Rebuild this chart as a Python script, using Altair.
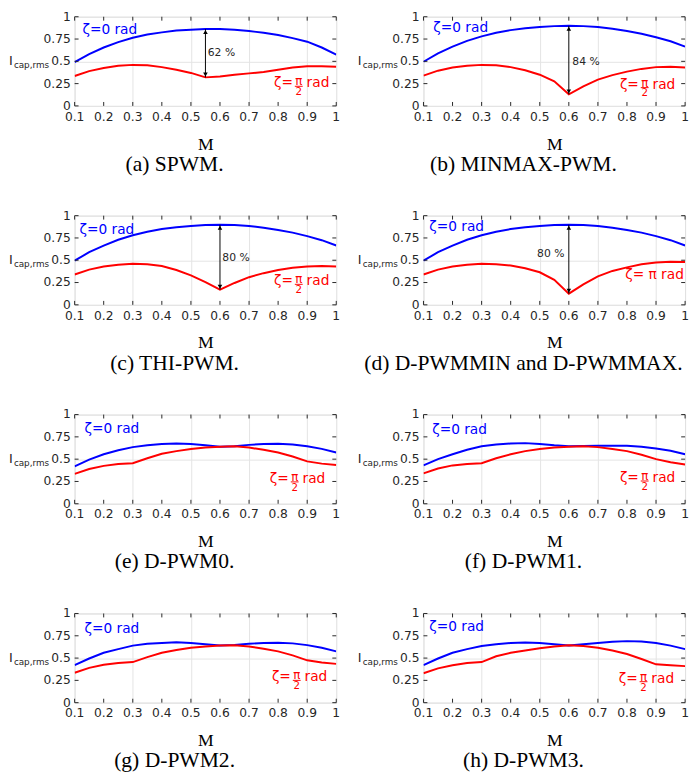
import altair as alt
import pandas as pd

# ---------------- data ----------------
M = [0.1, 0.15, 0.2, 0.25, 0.3, 0.35, 0.4, 0.45, 0.5, 0.55,
     0.6, 0.65, 0.7, 0.75, 0.8, 0.85, 0.9, 0.95, 1.0]
X_TICKS = [0.1, 0.2, 0.3, 0.4, 0.5, 0.6, 0.7, 0.8, 0.9, 1.0]
X_LABELS = ["0.1", "0.2", "0.3", "0.4", "0.5", "0.6", "0.7", "0.8", "0.9", "1"]
Y_TICKS = [0, 0.25, 0.5, 0.75, 1]
Y_LABELS = ["0", "0.25", "0.5", "0.75", "1"]

spwm_blue = [0.49, 0.58, 0.655, 0.715, 0.765, 0.80, 0.825, 0.845, 0.855, 0.862,
             0.862, 0.855, 0.84, 0.82, 0.795, 0.76, 0.72, 0.655, 0.575]
spwm_red = [0.335, 0.39, 0.425, 0.45, 0.46, 0.455, 0.435, 0.405, 0.37, 0.32,
            0.33, 0.35, 0.365, 0.38, 0.405, 0.43, 0.445, 0.445, 0.44]

minmax_blue = [0.495, 0.59, 0.665, 0.73, 0.78, 0.82, 0.85, 0.87, 0.885, 0.895,
               0.898, 0.895, 0.885, 0.865, 0.84, 0.81, 0.77, 0.725, 0.665]
minmax_red = [0.34, 0.395, 0.43, 0.45, 0.46, 0.455, 0.435, 0.40, 0.35, 0.275,
              0.13, 0.22, 0.295, 0.345, 0.385, 0.415, 0.435, 0.44, 0.43]

thi_blue = [0.495, 0.59, 0.665, 0.73, 0.78, 0.82, 0.85, 0.87, 0.885, 0.895,
            0.898, 0.895, 0.885, 0.865, 0.84, 0.81, 0.77, 0.725, 0.665]
thi_red = [0.34, 0.395, 0.43, 0.45, 0.46, 0.455, 0.435, 0.39, 0.33, 0.255,
           0.17, 0.245, 0.31, 0.355, 0.39, 0.415, 0.43, 0.435, 0.43]

dmm_blue = [0.495, 0.59, 0.665, 0.73, 0.78, 0.82, 0.85, 0.87, 0.885, 0.895,
            0.898, 0.895, 0.885, 0.865, 0.84, 0.81, 0.77, 0.725, 0.665]
dmm_red = [0.34, 0.395, 0.43, 0.45, 0.46, 0.455, 0.44, 0.41, 0.365, 0.28,
           0.125, 0.23, 0.32, 0.38, 0.42, 0.455, 0.475, 0.483, 0.48]

d0_blue = [0.42, 0.495, 0.555, 0.60, 0.635, 0.655, 0.67, 0.675, 0.67, 0.655,
           0.64, 0.645, 0.66, 0.67, 0.672, 0.665, 0.645, 0.615, 0.575]
d0_red = [0.335, 0.39, 0.425, 0.445, 0.455, 0.51, 0.56, 0.59, 0.615, 0.63,
          0.64, 0.645, 0.63, 0.605, 0.575, 0.53, 0.475, 0.45, 0.435]

d1_blue = [0.43, 0.50, 0.555, 0.605, 0.645, 0.665, 0.675, 0.68, 0.67, 0.655,
           0.645, 0.648, 0.65, 0.652, 0.65, 0.64, 0.62, 0.595, 0.555]
d1_red = [0.34, 0.395, 0.43, 0.445, 0.455, 0.51, 0.555, 0.59, 0.615, 0.63,
          0.64, 0.645, 0.635, 0.615, 0.59, 0.55, 0.50, 0.465, 0.44]

d2_blue = [0.42, 0.495, 0.56, 0.60, 0.64, 0.66, 0.67, 0.678, 0.67, 0.655,
           0.64, 0.648, 0.66, 0.67, 0.672, 0.665, 0.645, 0.615, 0.575]
d2_red = [0.335, 0.39, 0.425, 0.445, 0.455, 0.51, 0.56, 0.59, 0.615, 0.63,
          0.64, 0.645, 0.63, 0.605, 0.575, 0.53, 0.475, 0.45, 0.435]

d3_blue = [0.42, 0.495, 0.56, 0.60, 0.635, 0.655, 0.67, 0.675, 0.67, 0.655,
           0.64, 0.655, 0.67, 0.683, 0.69, 0.685, 0.67, 0.64, 0.60]
d3_red = [0.33, 0.385, 0.42, 0.445, 0.455, 0.52, 0.56, 0.585, 0.61, 0.63,
          0.645, 0.635, 0.615, 0.585, 0.545, 0.49, 0.43, 0.42, 0.41]

CAPTIONS = ["(a) SPWM.", "(b) MINMAX-PWM.", "(c) THI-PWM.",
            "(d) D-PWMMIN and D-PWMMAX.", "(e) D-PWM0.", "(f) D-PWM1.",
            "(g) D-PWM2.", "(h) D-PWM3."]

# label anchors (data coordinates)
BLUE_LAB = [(0.127, 0.81), (0.134, 0.83), (0.117, 0.79), (0.12, 0.83),
            (0.134, 0.79), (0.13, 0.78), (0.134, 0.78), (0.12, 0.80)]
RED_LAB = [(0.871, 0.22), (0.861, 0.205), (0.871, 0.23), (0.794, 0.285),
           (0.857, 0.245), (0.861, 0.255), (0.864, 0.25), (0.857, 0.235)]
# arrows: M, low, high, label text, label M, label I, align
ARROWS = [(0.55, 0.32, 0.862, "62 %", 0.558, 0.59, "left"),
          (0.6, 0.13, 0.898, "84 %", 0.612, 0.495, "left"),
          (0.6, 0.17, 0.898, "80 %", 0.608, 0.52, "left"),
          (0.6, 0.125, 0.898, "80 %", 0.585, 0.565, "right"),
          None, None, None, None]

BLUE = "#0000ff"
RED = "#ff0000"
DARK = "#262626"
GRID = "#e3e3e3"
SANS = "DejaVu Sans"
SERIF = "Liberation Serif"
W, H = 267, 91


def make_panel(i, blue, red, ylab_x=-67):
    n = len(M)
    curves = pd.DataFrame({"M": M + M, "I": blue + red,
                           "s": ["zeta0"] * n + ["zetapi"] * n})
    xs = alt.Scale(domain=[0.1, 1.0], nice=False, zero=False)
    ys = alt.Scale(domain=[0, 1], nice=False)
    xax = alt.Axis(values=X_TICKS, grid=True, gridColor=GRID, ticks=False,
                   domain=False, labels=False, title="M", titleFont=SERIF,
                   titleFontSize=18, titleFontWeight="normal", titleColor="black",
                   titlePadding=30)
    yax = alt.Axis(values=Y_TICKS, grid=True, gridColor=GRID, ticks=False,
                   domain=False, labels=False, title=None)
    lines = alt.Chart(curves).mark_line(strokeWidth=2, clip=True).encode(
        x=alt.X("M:Q", scale=xs, axis=xax),
        y=alt.Y("I:Q", scale=ys, axis=yax),
        color=alt.Color("s:N", scale=alt.Scale(domain=["zeta0", "zetapi"],
                                               range=[BLUE, RED]), legend=None),
    )
    layers = [lines]

    # tick labels
    xl = pd.DataFrame({"M": X_TICKS, "I": [0] * len(X_TICKS), "t": X_LABELS})
    yl = pd.DataFrame({"M": [0.1] * len(Y_TICKS), "I": Y_TICKS, "t": Y_LABELS})
    layers.append(alt.Chart(xl).mark_text(align="center", baseline="middle", dy=11,
                                          font=SANS, fontSize=12.5, color=DARK).encode(
        x="M:Q", y="I:Q", text="t:N"))
    layers.append(alt.Chart(yl).mark_text(align="right", baseline="middle", dx=-4,
                                          font=SANS, fontSize=12.5, color=DARK).encode(
        x="M:Q", y="I:Q", text="t:N"))

    # inner ticks (MATLAB style), short rules pointing into the plot
    bt = pd.DataFrame({"M": X_TICKS, "I": [0] * len(X_TICKS)})
    tt = pd.DataFrame({"M": X_TICKS, "I": [1] * len(X_TICKS)})
    lt = pd.DataFrame({"M": [0.1] * len(Y_TICKS), "I": Y_TICKS})
    rt = pd.DataFrame({"M": [1.0] * len(Y_TICKS), "I": Y_TICKS})
    layers.append(alt.Chart(bt).mark_rule(color=DARK, strokeWidth=1, y2Offset=-4).encode(
        x="M:Q", y="I:Q", y2="I"))
    layers.append(alt.Chart(tt).mark_rule(color=DARK, strokeWidth=1, y2Offset=4).encode(
        x="M:Q", y="I:Q", y2="I"))
    layers.append(alt.Chart(lt).mark_rule(color=DARK, strokeWidth=1, x2Offset=4).encode(
        x="M:Q", x2="M", y="I:Q"))
    layers.append(alt.Chart(rt).mark_rule(color=DARK, strokeWidth=1, x2Offset=-4).encode(
        x="M:Q", x2="M", y="I:Q"))

    # blue label
    bx, by = BLUE_LAB[i]
    bdf = pd.DataFrame({"M": [bx], "I": [by], "t": ["ζ=0 rad"]})
    layers.append(alt.Chart(bdf).mark_text(align="left", baseline="alphabetic",
                                           font=SANS, fontSize=14, color=BLUE).encode(
        x="M:Q", y="I:Q", text="t:N"))

    # red label
    rx, ry = RED_LAB[i]
    if i == 3:
        rdf = pd.DataFrame({"M": [rx], "I": [ry], "t": ["ζ= π rad"]})
        layers.append(alt.Chart(rdf).mark_text(align="left", baseline="alphabetic",
                                               font=SANS, fontSize=14, color=RED).encode(
            x="M:Q", y="I:Q", text="t:N"))
    else:
        rdf = pd.DataFrame({"M": [rx], "I": [ry], "a": ["ζ="], "b": ["rad"],
                            "n": ["π"], "d": ["2"]})
        layers.append(alt.Chart(rdf).mark_text(align="right", baseline="alphabetic",
                                               dx=-6, dy=1, font=SANS, fontSize=14,
                                               color=RED).encode(x="M:Q", y="I:Q", text="a:N"))
        layers.append(alt.Chart(rdf).mark_text(align="left", baseline="alphabetic",
                                               dx=8, dy=1, font=SANS, fontSize=14,
                                               color=RED).encode(x="M:Q", y="I:Q", text="b:N"))
        layers.append(alt.Chart(rdf).mark_text(align="center", baseline="alphabetic",
                                               dy=-1, font=SANS, fontSize=12,
                                               color=RED).encode(x="M:Q", y="I:Q", text="n:N"))
        layers.append(alt.Chart(rdf).mark_text(align="center", baseline="top",
                                               dy=1, font=SANS, fontSize=10.5,
                                               color=RED).encode(x="M:Q", y="I:Q", text="d:N"))
        layers.append(alt.Chart(rdf).mark_rule(color=RED, strokeWidth=1,
                                               xOffset=-4, x2Offset=4).encode(
            x="M:Q", x2="M", y="I:Q"))

    # arrow
    arr = ARROWS[i]
    if arr is not None:
        am, lo, hi, txt, lm, li, al = arr
        adf = pd.DataFrame({"M": [am], "I": [lo], "I2": [hi]})
        layers.append(alt.Chart(adf).mark_rule(color="black", strokeWidth=1).encode(
            x="M:Q", y="I:Q", y2="I2"))
        top = pd.DataFrame({"M": [am], "I": [hi]})
        bot = pd.DataFrame({"M": [am], "I": [lo]})
        layers.append(alt.Chart(top).mark_point(shape="triangle-up", filled=True,
                                                size=22, color="black", opacity=1,
                                                yOffset=3).encode(x="M:Q", y="I:Q"))
        layers.append(alt.Chart(bot).mark_point(shape="triangle-down", filled=True,
                                                size=22, color="black", opacity=1,
                                                yOffset=-3).encode(x="M:Q", y="I:Q"))
        ldf = pd.DataFrame({"M": [lm], "I": [li], "t": [txt]})
        layers.append(alt.Chart(ldf).mark_text(align=al, baseline="middle", font=SANS,
                                               fontSize=11, color=DARK).encode(
            x="M:Q", y="I:Q", text="t:N"))

    # y-axis label I_cap,rms
    one = pd.DataFrame({"k": [0]})
    layers.append(alt.Chart(one).mark_text(text="I", align="left", baseline="middle",
                                           font=SANS, fontSize=13, color=DARK).encode(
        x=alt.value(ylab_x), y=alt.value(H / 2)))
    layers.append(alt.Chart(one).mark_text(text="cap,rms", align="left",
                                           baseline="middle", font=SANS, fontSize=9,
                                           color=DARK).encode(
        x=alt.value(ylab_x + 5), y=alt.value(H / 2 + 4)))

    return alt.layer(*layers).properties(
        width=W, height=H,
        title=alt.TitleParams(CAPTIONS[i], orient="bottom", anchor="middle",
                              frame="bounds", font=SERIF, fontSize=22,
                              fontWeight="normal", color="black", offset=1),
    )


data = [(spwm_blue, spwm_red), (minmax_blue, minmax_red), (thi_blue, thi_red),
        (dmm_blue, dmm_red), (d0_blue, d0_red), (d1_blue, d1_red),
        (d2_blue, d2_red), (d3_blue, d3_red)]

panels = [make_panel(i, b, r) for i, (b, r) in enumerate(data)]

chart = alt.concat(*panels, columns=2, align="none",
                   spacing={"row": 34, "column": 16}).properties(
    padding={"left": 0, "top": -6, "right": 0, "bottom": 0}
).configure_view(stroke=DARK, strokeWidth=1).configure(background="white")

chart.save("out.html", embed_options={"renderer": "svg", "actions": False})
